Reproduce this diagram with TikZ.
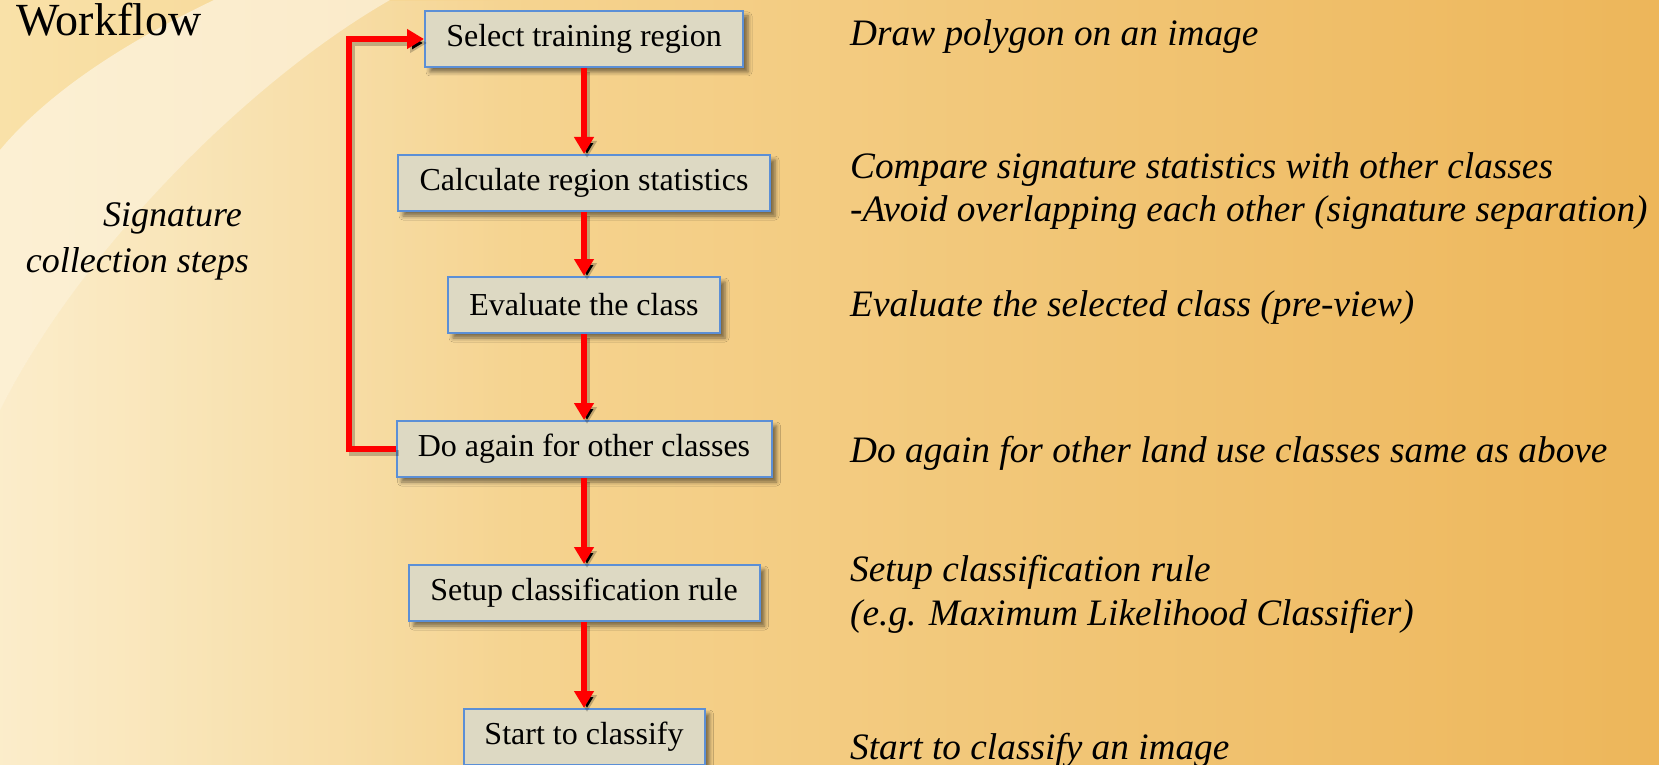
\documentclass[tikz,border=0pt]{standalone}
\usepackage{fontspec}
\setmainfont{Liberation Serif}
\usetikzlibrary{arrows.meta,shadows.blur,fadings}

\definecolor{boxfill}{HTML}{DDD9C3}
\definecolor{boxline}{HTML}{5B8FD6}
\definecolor{bgleft}{HTML}{F9E1A8}
\definecolor{bgmid}{HTML}{F4D490}
\definecolor{bgright}{HTML}{EDB65A}
\definecolor{flowred}{HTML}{FF0000}

\tikzset{
  stepbox/.style={draw=boxline, line width=2pt, fill=boxfill,
    minimum height=56pt, inner sep=0pt,
    font=\fontsize{32}{38}\selectfont,
    blur shadow={shadow xshift=5pt, shadow yshift=-5pt,
      shadow blur radius=4pt, shadow opacity=50}},
  flow/.style={draw=flowred, line width=6.5pt, line join=miter,
    -{Triangle[width=19pt,length=17pt]}},
  flowshade/.style={draw=black, draw opacity=0.22, line width=6.5pt,
    line join=miter, -{Triangle[width=19pt,length=17pt]},
    transform canvas={shift={(3pt,-4pt)}}},
  note/.style={anchor=base west, inner sep=0pt,
    font=\fontsize{37.3}{44}\selectfont\itshape},
  side/.style={anchor=base east, inner sep=0pt,
    font=\fontsize{36}{44}\selectfont\itshape}
}

\begin{document}
\begin{tikzpicture}[x=1pt,y=-1pt]
  % backdrop
  \useasboundingbox (0,0) rectangle (1659,765);
  \shade[left color=bgleft, middle color=bgmid, right color=bgright]
    (0,0) rectangle (1659,765);
  % pale swoosh in the upper-left corner
  \fill[white, fill opacity=0.5]
    (214,0) .. controls (130,40) and (50,90) .. (0,150)
    -- (0,410) .. controls (80,250) and (250,80) .. (390,0) -- cycle;
  \begin{scope}
    \clip (390,0) .. controls (250,80) and (80,250) .. (0,410)
      -- (0,765) -- (600,765) -- (600,0) -- cycle;
    \fill[white, fill opacity=0.4, path fading=east] (0,0) rectangle (520,765);
  \end{scope}

  % titles
  \node[anchor=base west, inner sep=0pt, font=\fontsize{46}{52}\selectfont]
    (title) at (16,36) {Workflow};
  \node[side] (sig1) at (242,226) {Signature};
  \node[side] (sig2) at (249,272) {collection steps};

  % process steps
  \node[stepbox, minimum width=318pt] (sel)   at (584,39)  {Select training region};
  \node[stepbox, minimum width=372pt] (calc)  at (584,183) {Calculate region statistics};
  \node[stepbox, minimum width=272pt] (eval)  at (584,305) {Evaluate the class};
  \node[stepbox, minimum width=375pt] (again) at (584,449) {Do again for other classes};
  \node[stepbox, minimum width=351pt] (setup) at (584,593) {Setup classification rule};
  \node[stepbox, minimum width=241pt] (start) at (584,737) {Start to classify};

  \coordinate (loopx) at (349,0);

  % connector shadows
  \draw[flowshade] (sel.south) -- (calc.north);
  \draw[flowshade] (calc.south) -- (eval.north);
  \draw[flowshade] (eval.south) -- (again.north);
  \draw[flowshade] (again.south) -- (setup.north);
  \draw[flowshade] (setup.south) -- (start.north);
  \draw[flowshade] (again.west) -- (again.west -| loopx)
    -- (sel.west -| loopx) -- (sel.west);

  % connectors
  \draw[flow] (sel.south) -- (calc.north);
  \draw[flow] (calc.south) -- (eval.north);
  \draw[flow] (eval.south) -- (again.north);
  \draw[flow] (again.south) -- (setup.north);
  \draw[flow] (setup.south) -- (start.north);
  \draw[flow] (again.west) -- (again.west -| loopx)
    -- (sel.west -| loopx) -- (sel.west);

  % step descriptions
  \node[note] (d1)  at (850,46)  {Draw polygon on an image};
  \node[note] (d2a) at (850,178) {Compare signature statistics with other classes};
  \node[note] (d2b) at (850,221) {-Avoid overlapping each other (signature separation)};
  \node[note] (d3)  at (850,316) {Evaluate the selected class (pre-view)};
  \node[note] (d4)  at (850,462) {Do again for other land use classes same as above};
  \node[note] (d5a) at (850,581) {Setup classification rule};
  \node[note] (d5b) at (850,625) {(e.g. Maximum Likelihood Classifier)};
  \node[note] (d6)  at (850,759) {Start to classify an image};
\end{tikzpicture}
\end{document}
